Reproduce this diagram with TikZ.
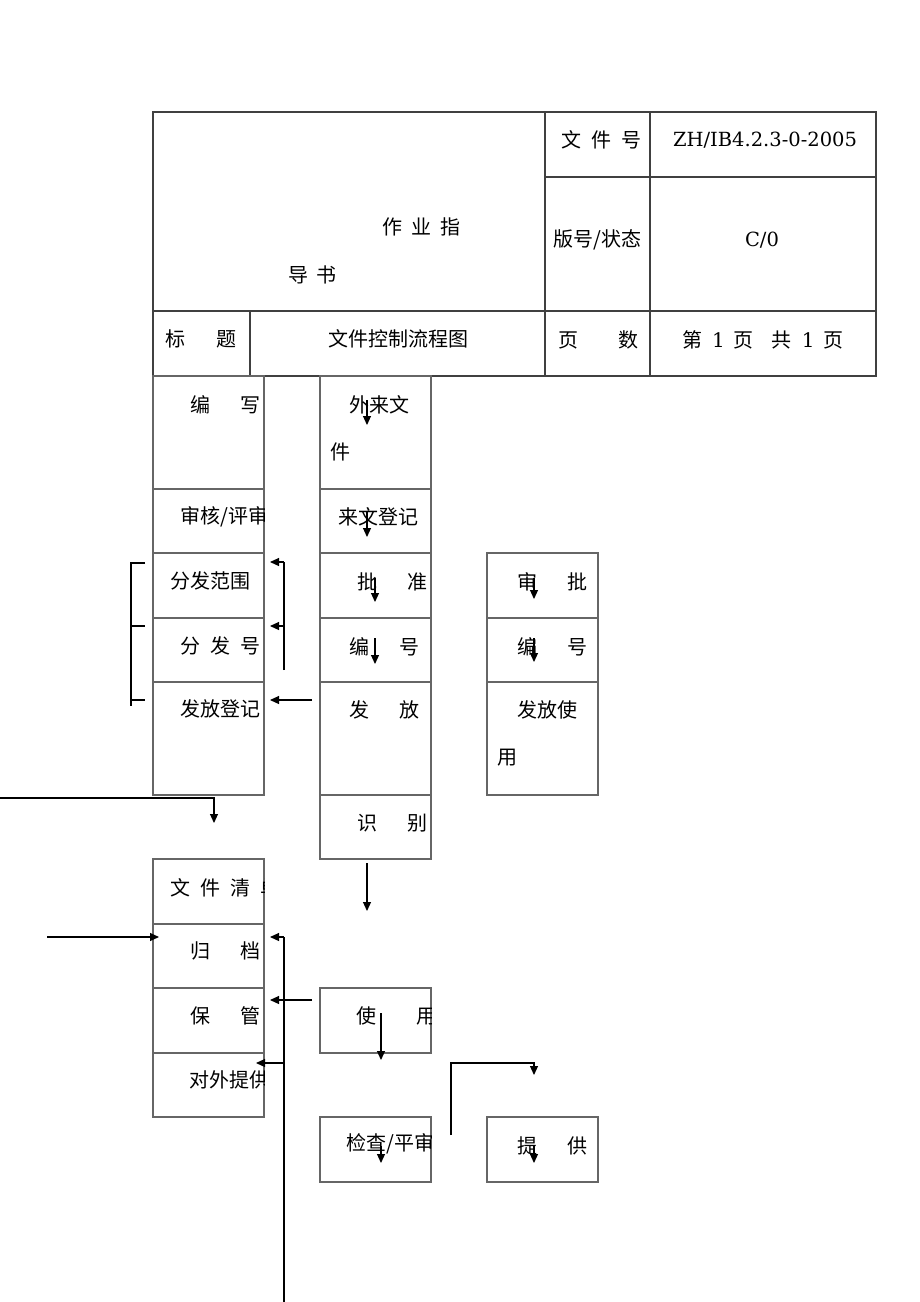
\documentclass[tikz,border=0pt]{standalone}
\usepackage{fontspec}
\setmainfont{DejaVu Serif}
\newfontfamily\cjk{Noto Sans CJK SC}
\usetikzlibrary{arrows.meta,fit}
\tikzset{
 tbl/.style={draw=black!75, line width=1.3pt},
 bx/.style={draw=black!60, line width=1.1pt, inner sep=0pt, outer sep=0pt},
 txt/.style={font=\cjk\fontsize{20}{24}\selectfont, inner sep=0pt, anchor=west},
 lat/.style={font=\fontsize{19.5}{24}\selectfont, inner sep=0pt},
 ln/.style={draw=black, line width=1.1pt},
 arr/.style={ln, -{Triangle[length=9pt,width=8pt]}},
}
\newcommand\gp[1]{\hspace{#1pt}}
\newcommand\lt[1]{{\rmfamily #1}}
\newcommand\ctext[4]{\begin{scope}\clip (#2.south west) rectangle (#2.north east);\node[txt] (#1) at #3 {#4};\end{scope}}
\begin{document}
\begin{tikzpicture}[x=1pt,y=-1pt]
\useasboundingbox[fill=white] (0,0) rectangle (920,1302);
% header table
\draw[tbl] (153,112) rectangle (876,376);
\draw[tbl] (545,112) -- (545,376) (650,112) -- (650,376) (545,177) -- (876,177) (153,311) -- (876,311) (250,311) -- (250,376);
\node[txt] (h1) at (382,227) {作\gp{9}业\gp{9}指};
\node[txt] (h2) at (288,275) {导\gp{8}书};
\node[txt] (h3) at (561,140) {文\gp{10}件\gp{10}号};
\node[lat] (h4) at (765,140) {ZH/IB4.2.3-0-2005};
\node[txt] (h5) at (553,240) {版号/状态};
\node[lat] (h6) at (762,240) {C/0};
\node[txt] (h7) at (165,339) {标\gp{31}题};
\node[txt] (h8) at (328,339) {文件控制流程图};
\node[txt] (h9) at (558,340) {页\gp{40}数};
\node[txt] (h10) at (682,340) {第\gp{10}\lt{1}\gp{9}页\gp{18}共\gp{10}\lt{1}\gp{9}页};
% left column
\node[bx, fit={(153,376) (264,489)}] (L1) {};
\node[bx, fit={(153,489) (264,553)}] (L2) {};
\node[bx, fit={(153,553) (264,618)}] (L3) {};
\node[bx, fit={(153,618) (264,682)}] (L4) {};
\node[bx, fit={(153,682) (264,795)}] (L5) {};
% middle column
\node[bx, fit={(320,376) (431,489)}] (M1) {};
\node[bx, fit={(320,489) (431,553)}] (M2) {};
\node[bx, fit={(320,553) (431,618)}] (M3) {};
\node[bx, fit={(320,618) (431,682)}] (M4) {};
\node[bx, fit={(320,682) (431,795)}] (M5) {};
\node[bx, fit={(320,795) (431,859)}] (M6) {};
% right column
\node[bx, fit={(487,553) (598,618)}] (R1) {};
\node[bx, fit={(487,618) (598,682)}] (R2) {};
\node[bx, fit={(487,682) (598,795)}] (R3) {};
% lower boxes
\node[bx, fit={(153,859) (264,924)}] (D1) {};
\node[bx, fit={(153,924) (264,988)}] (D2) {};
\node[bx, fit={(153,988) (264,1053)}] (D3) {};
\node[bx, fit={(153,1053) (264,1117)}] (D4) {};
\node[bx, fit={(320,988) (431,1053)}] (U1) {};
\node[bx, fit={(320,1117) (431,1182)}] (C1) {};
\node[bx, fit={(487,1117) (598,1182)}] (P1) {};
% texts
\ctext{tL1}{L1}{(190,405)}{编\gp{30}写}
\ctext{tL2}{L2}{(180,517)}{审核/评审}
\ctext{tL3}{L3}{(170,581)}{分发范围}
\ctext{tL4}{L4}{(180,646)}{分\gp{10}发\gp{10}号}
\ctext{tL5}{L5}{(180,709)}{发放登记}
\ctext{tM1a}{M1}{(349,405)}{外来文}
\ctext{tM1b}{M1}{(330,452)}{件}
\ctext{tM2}{M2}{(338,517)}{来文登记}
\ctext{tM3}{M3}{(357,582)}{批\gp{30}准}
\ctext{tM4}{M4}{(349,647)}{编\gp{30}号}
\ctext{tM5}{M5}{(349,710)}{发\gp{30}放}
\ctext{tM6}{M6}{(357,823)}{识\gp{30}别}
\ctext{tR1}{R1}{(517,582)}{审\gp{30}批}
\ctext{tR2}{R2}{(517,647)}{编\gp{30}号}
\ctext{tR3a}{R3}{(517,710)}{发放使}
\ctext{tR3b}{R3}{(497,758)}{用}
\ctext{tD1}{D1}{(170,888)}{文\gp{10}件\gp{10}清\gp{10}单}
\ctext{tD2}{D2}{(190,951)}{归\gp{30}档}
\ctext{tD3}{D3}{(190,1016)}{保\gp{30}管}
\ctext{tD4}{D4}{(189,1080)}{对外提供}
\ctext{tU1}{U1}{(356,1016)}{使\gp{40}用}
\ctext{tC1}{C1}{(346,1144)}{检查/平审}
\ctext{tP1}{P1}{(517,1146)}{提\gp{30}供}
% small arrows inside boxes
\coordinate (a1s) at (367,400); \coordinate (a1e) at (367,425);
\coordinate (a2s) at (367,512); \coordinate (a2e) at (367,537);
\coordinate (a3s) at (375,578); \coordinate (a3e) at (375,602);
\coordinate (a4s) at (375,638); \coordinate (a4e) at (375,664);
\coordinate (a5s) at (534,578); \coordinate (a5e) at (534,599);
\coordinate (a6s) at (534,638); \coordinate (a6e) at (534,662);
\coordinate (a7s) at (367,863); \coordinate (a7e) at (367,911);
\coordinate (a8s) at (381,1013); \coordinate (a8e) at (381,1060);
\coordinate (a9s) at (381,1146); \coordinate (a9e) at (381,1163);
\coordinate (a10s) at (534,1146); \coordinate (a10e) at (534,1163);
\foreach \i in {1,...,10} {\draw[arr] (a\i s) -- (a\i e);}
% bracket arrow to 提供
\coordinate (b1) at (451,1135); \coordinate (b2) at (451,1063); \coordinate (b3) at (534,1063); \coordinate (b4) at (534,1075);
\draw[arr] (b1) -- (b2) -- (b3) -- (b4);
% long line from left to 文件清单
\coordinate (c1) at (0,798); \coordinate (c2) at (214,798); \coordinate (c3) at (214,823);
\draw[arr] (c1) -- (c2) -- (c3);
% arrow into 归档 from left
\coordinate (d1) at (47,937); \coordinate (d2) at (159,937);
\draw[arr] (d1) -- (d2);
% upper feedback lines
\coordinate (e0) at (284,670); \coordinate (e1) at (284,562); \coordinate (e1t) at (270,562);
\coordinate (e2) at (284,626); \coordinate (e2t) at (270,626);
\draw[ln] (e0) -- (e1);
\draw[arr] (e1) -- (e1t);
\draw[arr] (e2) -- (e2t);
\coordinate (f1) at (312,700); \coordinate (f2) at (270,700);
\draw[arr] (f1) -- (f2);
% lower feedback lines
\coordinate (g0) at (284,1302); \coordinate (g1) at (284,937); \coordinate (g1t) at (270,937);
\coordinate (g2) at (284,1063); \coordinate (g2t) at (256,1063);
\draw[ln] (g0) -- (g1);
\draw[arr] (g1) -- (g1t);
\draw[arr] (g2) -- (g2t);
\coordinate (k1) at (312,1000); \coordinate (k2) at (270,1000);
\draw[arr] (k1) -- (k2);
% left bracket
\coordinate (m1) at (145,563); \coordinate (m2) at (131,563); \coordinate (m3) at (131,706);
\coordinate (m4) at (131,626); \coordinate (m5) at (145,626);
\coordinate (m6) at (131,700); \coordinate (m7) at (145,700);
\draw[ln] (m1) -- (m2) -- (m3);
\draw[ln] (m4) -- (m5);
\draw[ln] (m6) -- (m7);
\end{tikzpicture}
\end{document}
